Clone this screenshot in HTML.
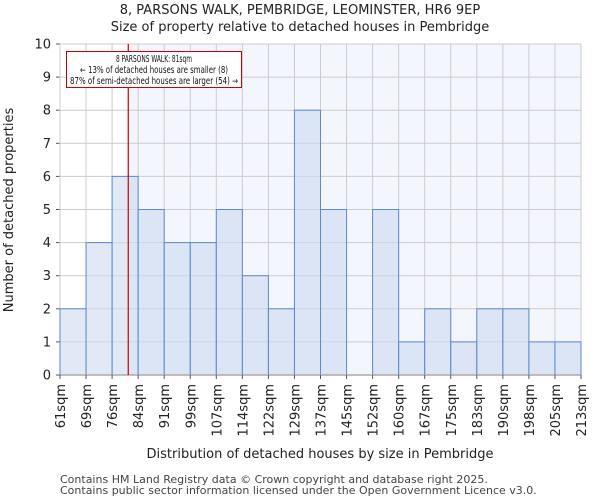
<!DOCTYPE html>
<html><head><meta charset="utf-8"><style>
body{margin:0;background:#fff;font-family:"DejaVu Sans","Liberation Sans",sans-serif}
text{font-family:"DejaVu Sans","Liberation Sans",sans-serif}
</style></head><body>
<svg id="c" width="600" height="500" xmlns="http://www.w3.org/2000/svg"></svg>
<script>
const binLabels=["61sqm","69sqm","76sqm","84sqm","91sqm","99sqm","107sqm","114sqm","122sqm","129sqm","137sqm","145sqm","152sqm","160sqm","167sqm","175sqm","183sqm","190sqm","198sqm","205sqm","213sqm"];
const counts=[2,4,6,5,4,4,5,3,2,8,5,0,5,1,2,1,2,2,1,1];
const yTicks=[0,1,2,3,4,5,6,7,8,9,10];
const propertyBinPos=[2.62];
const annotationLines=["8 PARSONS WALK: 81sqm","← 13% of detached houses are smaller (8)","87% of semi-detached houses are larger (54) →"];

const NS="http://www.w3.org/2000/svg";
const svg=document.getElementById('c');
const L=60,R=581,T=44,B=375;
const n=counts.length;
const x=i=>L+(R-L)*i/n;
const y=v=>B-(B-T)*v/10;
function el(tag,attrs,txt){const e=document.createElementNS(NS,tag);for(const k in attrs)e.setAttribute(k,attrs[k]);if(txt!=null)e.textContent=txt;svg.appendChild(e);return e;}

let bg=el('rect',{x:x(propertyBinPos[0]),y:T,width:R-x(propertyBinPos[0]),height:B-T,fill:'#f3f6fd'});


for(const t of yTicks){
  const g=el('line',{x1:L,x2:R,y1:y(t),y2:y(t),stroke:'#cccccc','stroke-width':1});
  
  
  const tk=el('line',{x1:L-4,x2:L,y1:y(t),y2:y(t),stroke:'#555'});
  
  
  const lb=el('text',{x:L-9,y:y(t)+4.5,'text-anchor':'end','font-size':13,fill:'#222'},t);
  
  
}
for(let i=0;i<=n;i++){
  const g=el('line',{x1:x(i),x2:x(i),y1:T,y2:B,stroke:'#cccccc','stroke-width':1});
  
  
}
for(let i=0;i<n;i++){
  if(counts[i]===0)continue;
  const b=el('rect',{x:x(i),y:y(counts[i]),width:x(i+1)-x(i),height:B-y(counts[i]),fill:'rgba(205,218,240,0.6)',stroke:'#5b8bd0','stroke-width':1});
  
  
}
const ax=el('line',{x1:L,x2:R,y1:B,y2:B,stroke:'#aaa','stroke-width':1.5});


for(let i=0;i<=n;i++){
  const tk=el('line',{x1:x(i),x2:x(i),y1:B,y2:B+4,stroke:'#555'});
  
  
  const lb=el('text',{x:0,y:0,'text-anchor':'end','font-size':13,fill:'#222',transform:`translate(${x(i)+5},${B+9}) rotate(-90)`},binLabels[i]);
  
  
}
const px=x(propertyBinPos[0]);
const pl=el('line',{x1:px,x2:px,y1:T,y2:B,stroke:'#cc0000','stroke-width':1.2});


const box=el('rect',{x:66.5,y:51.5,width:175,height:36,fill:'#fff',stroke:'#cc0000','stroke-width':1});


const annLens=[76,148,168];
annotationLines.forEach((s,i)=>{
  const t=el('text',{x:154,y:62+i*11,'text-anchor':'middle','font-size':9.5,fill:'#111',textLength:annLens[i],lengthAdjust:'spacingAndGlyphs'},s);
  
  
});
const t1=el('text',{x:300,y:14,'text-anchor':'middle','font-size':13,fill:'#222'},'8, PARSONS WALK, PEMBRIDGE, LEOMINSTER, HR6 9EP');


const t2=el('text',{x:300,y:31,'text-anchor':'middle','font-size':13,fill:'#222'},'Size of property relative to detached houses in Pembridge');


const xt=el('text',{x:320,y:458,'text-anchor':'middle','font-size':13,fill:'#222'},'Distribution of detached houses by size in Pembridge');


const yt=el('text',{x:0,y:0,'text-anchor':'middle','font-size':13,fill:'#222',transform:'translate(13,210) rotate(-90)'},'Number of detached properties');


const f1=el('text',{x:60,y:483,'font-size':11,fill:'#444'},'Contains HM Land Registry data © Crown copyright and database right 2025.');


const f2=el('text',{x:60,y:494,'font-size':11,fill:'#444'},'Contains public sector information licensed under the Open Government Licence v3.0.');


</script>
</body></html>
